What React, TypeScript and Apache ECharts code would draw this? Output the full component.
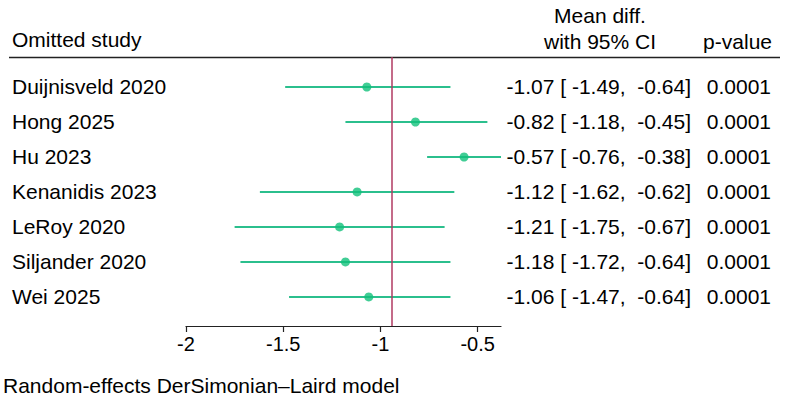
import React, { useEffect, useRef } from "react";
import * as echarts from "echarts";

const studies = [
  "Duijnisveld 2020",
  "Hong 2025",
  "Hu 2023",
  "Kenanidis 2023",
  "LeRoy 2020",
  "Siljander 2020",
  "Wei 2025",
];
const means = [-1.07, -0.82, -0.57, -1.12, -1.21, -1.18, -1.06];
const lower = [-1.49, -1.18, -0.76, -1.62, -1.75, -1.72, -1.47];
const upper = [-0.64, -0.45, -0.38, -0.62, -0.67, -0.64, -0.64];
const pValues = ["0.0001", "0.0001", "0.0001", "0.0001", "0.0001", "0.0001", "0.0001"];
const overallEstimate = -0.945;
const xTicks = [-2, -1.5, -1, -0.5];

const FONT = "'Liberation Sans', Arial, Helvetica, sans-serif";
const TEXT_SIZE = 21;
const TEXT_COLOR = "#000";
const GREEN_LINE = "#2bbf8d";
const GREEN_DOT = "#12c07a";
const RED = "#b03a62";

function fmt(v: number) {
  return v.toFixed(2);
}

export default function App() {
  const ref = useRef<HTMLDivElement>(null);
  useEffect(() => {
    if (!ref.current) return;
    const chart = echarts.init(ref.current, null, { renderer: "svg" });
    const rows = studies.map((s, i) => [i, means[i], lower[i], upper[i]]);
    chart.setOption({
      animation: false,
      textStyle: { fontFamily: FONT },
      grid: { left: 186, width: 315, top: 57, height: 269, containLabel: false },
      xAxis: {
        type: "value",
        min: -2,
        max: -0.38,
        interval: 0.5,
        splitLine: { show: false },
        axisLine: { show: true, onZero: false, lineStyle: { color: "#222", width: 1.2 } },
        axisTick: { show: true, length: 6, lineStyle: { color: "#222", width: 1.2 } },
        axisLabel: {
          color: TEXT_COLOR,
          fontSize: 20,
          fontFamily: FONT,
          margin: 8,
          showMaxLabel: false,
          formatter: (v: number) => (xTicks.some((t) => Math.abs(t - v) < 1e-9) ? String(v) : ""),
        },
      },
      yAxis: {
        type: "value",
        min: -0.857,
        max: 6.83,
        inverse: true,
        show: false,
      },
      graphic: [
        { type: "text", left: 12, top: 41 - 12, style: { text: "Omitted study", font: `${TEXT_SIZE}px ${FONT}`, fill: TEXT_COLOR } },
        { type: "text", x: 600, y: 15, style: { text: "Mean diff.", font: `${TEXT_SIZE}px ${FONT}`, fill: TEXT_COLOR, align: "center", verticalAlign: "middle" } },
        { type: "text", x: 600, y: 41, style: { text: "with 95% CI", font: `${TEXT_SIZE}px ${FONT}`, fill: TEXT_COLOR, align: "center", verticalAlign: "middle" } },
        { type: "text", x: 772, y: 41, style: { text: "p-value", font: `${TEXT_SIZE}px ${FONT}`, fill: TEXT_COLOR, align: "right", verticalAlign: "middle" } },
        { type: "line", shape: { x1: 9, y1: 57.5, x2: 780, y2: 57.5 }, style: { stroke: "#222", lineWidth: 1.5 } },
        { type: "text", x: 3, y: 385, style: { text: "Random-effects DerSimonian\u2013Laird model", font: `${TEXT_SIZE}px ${FONT}`, fill: TEXT_COLOR, verticalAlign: "middle" } },
      ],
      series: [
        {
          type: "custom",
          clip: false,
          z: 2,
          data: rows,
          renderItem: (params: any, api: any) => {
            const idx = api.value(0);
            const i = Number(idx);
            const p1 = api.coord([api.value(2), idx]);
            const p2 = api.coord([api.value(3), idx]);
            const y = p1[1];
            const ciText = `${fmt(means[i])} [ ${fmt(lower[i])},  ${fmt(upper[i])}]`;
            return {
              type: "group",
              children: [
                {
                  type: "line",
                  shape: { x1: p1[0], y1: y, x2: p2[0], y2: y },
                  style: { stroke: GREEN_LINE, lineWidth: 2 },
                },
                {
                  type: "text",
                  x: 12,
                  y: y,
                  style: { text: studies[i], font: `${TEXT_SIZE}px ${FONT}`, fill: TEXT_COLOR, verticalAlign: "middle", align: "left" },
                },
                {
                  type: "text",
                  x: 691,
                  y: y,
                  style: { text: ciText, font: `${TEXT_SIZE}px ${FONT}`, fill: TEXT_COLOR, verticalAlign: "middle", align: "right" },
                },
                {
                  type: "text",
                  x: 771,
                  y: y,
                  style: { text: pValues[i], font: `${TEXT_SIZE}px ${FONT}`, fill: TEXT_COLOR, verticalAlign: "middle", align: "right" },
                },
              ],
            };
          },
        },
        {
          type: "scatter",
          z: 3,
          symbol: "circle",
          symbolSize: 9,
          itemStyle: { color: GREEN_DOT },
          data: means.map((m, i) => [m, i]),
        },
        {
          type: "line",
          z: 5,
          data: [],
          markLine: {
            silent: true,
            symbol: "none",
            label: { show: false },
            lineStyle: { color: RED, width: 1.5, type: "solid" },
            data: [{ xAxis: overallEstimate }],
          },
        },
      ],
    });
    return () => chart.dispose();
  }, []);
  return (
    <div
      ref={ref}
      style={{ position: "fixed", left: 0, top: 0, width: 790, height: 398, background: "#fff" }}
    />
  );
}
